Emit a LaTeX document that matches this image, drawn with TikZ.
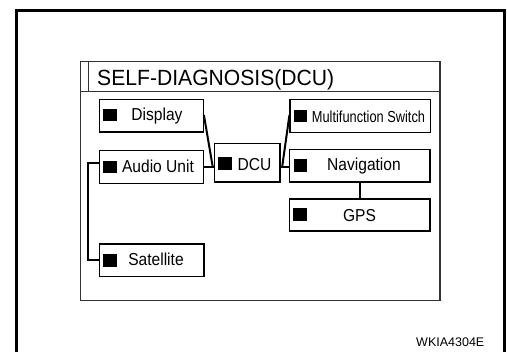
\documentclass[tikz,border=0pt]{standalone}
\usepackage{graphicx}
\usepackage{fontspec}
\setmainfont{Liberation Sans}
\newcommand{\hsq}[2]{\scalebox{#1}[1]{#2}}
\begin{document}
\begin{tikzpicture}[x=1pt,y=-1pt,
  box/.style={draw=black,line width=1.2pt,rectangle,inner sep=0pt,minimum width=104pt,minimum height=32.5pt},
  wbox/.style={box,minimum width=140.3pt},
  sqr/.style={fill=black,draw=none,rectangle,inner sep=0pt,minimum width=13.3pt,minimum height=12.7pt},
  lbl/.style={anchor=base,inner sep=0pt,font=\fontsize{17.3}{17.3}\selectfont},
  conn/.style={line width=2pt,line join=miter}]
\useasboundingbox (0,0) rectangle (507,352);
% outer frame
\draw[line width=3pt] (16.7,353) -- (16.7,10.2) -- (504.3,10.2) -- (504.3,353);
% inner frame
\draw[black!80,line width=1.3pt] (80.3,61.7) rectangle (440,300.7);
\draw[black!80,line width=1.3pt] (80.3,91.5) -- (440,91.5);
\draw[black!80,line width=1.3pt] (88.3,61.7) -- (88.3,91.5);
\node[anchor=base west,inner sep=0pt,font=\fontsize{22}{22}\selectfont] (title) at (97,86) {\hsq{0.96}{SELF-DIAGNOSIS(DCU)}};
% boxes
\node[box] (display) at (151.3,115.7) {};
\node[box] (audio) at (151.3,167) {};
\node[box,minimum width=104.7pt] (sat) at (151.7,260.3) {};
\node[box,minimum width=65.7pt,minimum height=38.7pt] (dcu) at (247.2,162.7) {};
\node[wbox,minimum height=33pt] (multi) at (360.2,115.8) {};
\node[wbox] (nav) at (359.8,165.8) {};
\node[wbox,minimum height=32pt] (gps) at (359.8,215) {};
% squares
\node[sqr] (sqd) at (110,115.1) {};
\node[sqr] (sqa) at (110,167) {};
\node[sqr] (sqs) at (110,260.3) {};
\node[sqr] (sqc) at (225,163.7) {};
\node[sqr] (sqm) at (300.7,116) {};
\node[sqr] (sqn) at (300.7,165.3) {};
\node[sqr] (sqg) at (300,214.7) {};
% labels
\node[lbl] (tdisplay) at (157,120.7) {\hsq{0.9}{Display}};
\node[lbl] (taudio) at (158,172.7) {\hsq{0.9}{Audio Unit}};
\node[lbl] (tsat) at (156,265.7) {\hsq{0.9}{Satellite}};
\node[lbl] (tdcu) at (254.5,170.7) {\hsq{0.9}{DCU}};
\node[lbl,font=\fontsize{16}{16}\selectfont] (tmulti) at (368.5,122.3) {\hsq{0.8}{Multifunction Switch}};
\node[lbl] (tnav) at (364,170.7) {\hsq{0.9}{Navigation}};
\node[lbl] (tgps) at (359.5,221.3) {\hsq{0.9}{GPS}};
\node[anchor=base west,inner sep=0pt,font=\fontsize{12.5}{12.5}\selectfont] (code) at (416,346.7) {WKIA4304E};
% connectors
\draw[conn] ([yshift=0.7pt]display.east) -- ([xshift=-1pt,yshift=-4.3pt]dcu.west);
\draw[conn] (audio.east) -- ([yshift=-4.3pt]dcu.west);
\draw[conn] ([yshift=4.3pt]audio.west) -- ++(-11,0) |- (sat.west);
\draw[conn] ([yshift=-4.3pt]dcu.east) -- ([yshift=-1.2pt]nav.west);
\draw[conn] ([xshift=1.5pt,yshift=-4.3pt]dcu.east) -- ([yshift=0.8pt]multi.west);
\draw[conn] (nav.south) -- (gps.north);
\end{tikzpicture}
\end{document}
